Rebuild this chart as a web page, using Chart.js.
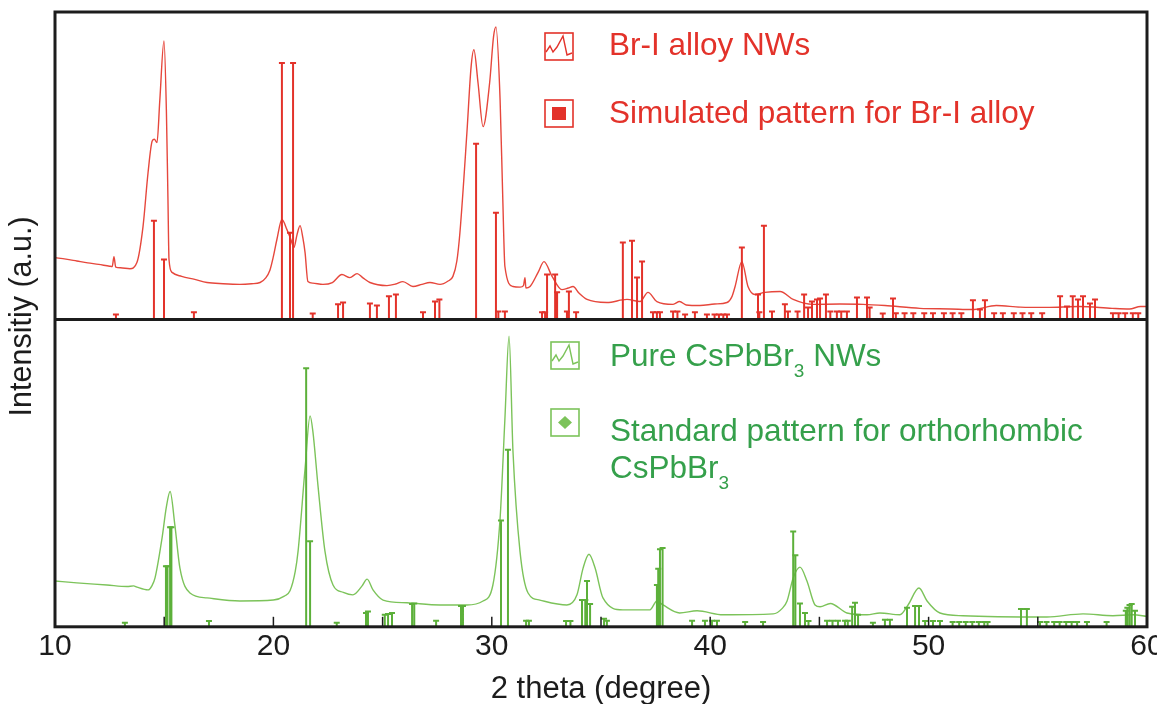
<!DOCTYPE html>
<html>
<head>
<meta charset="utf-8">
<title>XRD patterns</title>
<script src="https://cdn.jsdelivr.net/npm/chart.js@4.4.1/dist/chart.umd.min.js"></script>
<style>
    html, body { margin: 0; padding: 0; background: #fff; }
    #wrap { width: 1157px; height: 704px; }
</style>
</head>
<body>
<div id="wrap"><canvas id="chart" width="1157" height="704"></canvas></div>
<script>
// Br-I alloy NWs, measured pattern (2 theta, intensity in top-panel units 0..100)
const alloyX = [10.0, 10.5, 11.0, 11.5, 12.0, 12.5, 12.62, 12.7, 12.78, 13.0, 13.43, 13.75, 14.03, 14.26, 14.45, 14.55, 14.67, 14.8, 14.99, 15.1, 15.17, 15.22, 15.36, 15.8, 16.4, 16.96, 17.7, 18.47, 19.0, 19.39, 19.65, 19.84, 20.0, 20.16, 20.39, 20.62, 20.8, 20.94, 21.08, 21.22, 21.35, 21.45, 21.58, 21.8, 22.27, 22.7, 23.14, 23.5, 23.83, 24.1, 24.42, 25.2, 25.6, 25.93, 26.39, 26.8, 27.17, 27.63, 28.0, 28.22, 28.4, 28.54, 28.86, 29.05, 29.18, 29.37, 29.6, 29.9, 30.08, 30.19, 30.38, 30.5, 30.6, 30.97, 31.3, 31.45, 31.52, 31.56, 31.75, 32.12, 32.39, 32.76, 33.21, 33.5, 33.72, 34.0, 34.36, 35.27, 36.19, 36.79, 37.15, 37.56, 38.3, 38.6, 38.9, 39.53, 40.2, 40.77, 41.0, 41.14, 41.45, 41.73, 42.05, 42.5, 43.2, 43.8, 44.7, 45.94, 47.0, 48.0, 49.6, 51.0, 52.0, 53.1, 54.2, 55.4, 56.9, 58.4, 59.2, 59.7, 60.0];
const alloyY = [20.1, 19.6, 19.0, 18.4, 17.9, 17.3, 17.2, 20.4, 17.0, 16.8, 16.5, 18.5, 30.2, 47.7, 58.0, 58.6, 57.5, 71.4, 90.6, 68.0, 40.0, 19.5, 15.3, 14.0, 13.0, 12.0, 11.6, 11.4, 11.6, 12.0, 13.5, 16.0, 20.5, 26.0, 32.5, 29.2, 26.0, 23.4, 27.5, 30.5, 26.5, 21.7, 12.3, 11.8, 11.4, 12.0, 14.6, 13.6, 14.9, 13.5, 12.0, 11.0, 11.5, 12.3, 10.7, 11.4, 12.0, 11.4, 12.5, 14.0, 19.0, 28.2, 60.7, 82.0, 87.7, 76.9, 62.7, 76.9, 92.0, 95.1, 71.4, 40.0, 17.2, 10.7, 10.5, 11.0, 13.6, 10.2, 10.7, 15.3, 18.8, 14.0, 9.7, 10.2, 10.7, 8.5, 6.5, 5.5, 6.5, 5.8, 8.8, 5.8, 4.9, 5.8, 4.7, 4.5, 5.0, 5.5, 7.5, 10.7, 18.8, 10.7, 8.1, 8.8, 9.1, 6.5, 4.9, 5.0, 4.9, 4.5, 3.6, 3.4, 3.2, 4.5, 4.0, 3.9, 4.2, 3.6, 3.4, 4.2, 4.2];

// simulated pattern for Br-I alloy (stick positions and heights)
const alloyRefX = [12.79, 14.53, 14.99, 16.36, 20.39, 20.76, 20.9, 21.8, 22.96, 23.19, 24.42, 24.74, 25.29, 25.61, 26.85, 27.4, 27.6, 29.28, 30.19, 30.3, 30.6, 32.3, 32.44, 32.53, 32.9, 32.99, 33.44, 33.53, 33.86, 36.0, 36.42, 36.65, 36.88, 37.38, 37.56, 37.7, 38.3, 38.5, 38.85, 39.3, 39.85, 40.2, 40.4, 40.6, 40.77, 41.45, 42.19, 42.25, 42.46, 42.83, 43.42, 43.56, 44.0, 44.3, 44.48, 44.66, 44.89, 45.03, 45.3, 45.5, 45.8, 46.0, 46.26, 46.72, 47.18, 47.3, 47.9, 48.37, 48.5, 48.9, 49.3, 49.8, 50.2, 50.7, 51.1, 51.5, 52.03, 52.35, 52.58, 53.0, 53.4, 53.9, 54.3, 54.7, 55.2, 56.02, 56.34, 56.6, 56.84, 57.07, 57.39, 57.62, 58.44, 58.7, 59.0, 59.35, 59.6];
const alloyRefY = [1.6, 32.1, 19.5, 2.3, 83.4, 28.2, 83.4, 1.9, 4.9, 5.5, 5.2, 4.5, 7.5, 8.1, 2.3, 5.8, 6.5, 57.1, 34.7, 2.6, 2.6, 2.3, 2.3, 14.6, 14.6, 8.8, 2.6, 9.1, 2.3, 25.0, 25.6, 13.6, 18.8, 2.3, 2.3, 2.3, 2.6, 2.6, 1.6, 2.3, 1.6, 1.6, 1.6, 1.6, 1.6, 23.4, 8.1, 2.3, 30.5, 2.6, 4.9, 2.6, 2.6, 8.1, 3.9, 5.8, 6.5, 6.8, 8.1, 2.6, 2.6, 2.6, 2.6, 7.1, 7.1, 3.9, 1.9, 6.8, 2.0, 2.0, 2.0, 2.0, 2.0, 2.0, 2.0, 2.0, 6.2, 3.2, 6.2, 2.0, 2.0, 2.0, 2.0, 2.0, 2.0, 7.5, 4.2, 7.5, 6.5, 7.5, 5.2, 6.5, 2.0, 2.0, 2.0, 2.0, 2.0];

// pure CsPbBr3 NWs, measured pattern (bottom-panel units 0..100)
const pureX = [10.0, 11.0, 12.38, 13.3, 13.6, 13.75, 14.26, 14.45, 14.58, 14.9, 15.1, 15.27, 15.49, 15.72, 16.18, 16.96, 18.47, 20.0, 20.5, 20.76, 21.0, 21.13, 21.45, 21.68, 21.81, 22.04, 22.36, 22.73, 23.2, 23.64, 24.06, 24.29, 24.56, 25.02, 26.12, 27.63, 28.86, 29.6, 30.05, 30.38, 30.6, 30.79, 30.97, 31.29, 31.66, 32.2, 33.44, 33.9, 34.18, 34.45, 34.73, 35.09, 36.0, 37.24, 37.56, 37.84, 38.6, 39.4, 40.59, 42.88, 43.3, 43.52, 43.8, 44.11, 44.43, 44.8, 45.03, 45.5, 46.26, 47.18, 47.77, 48.69, 49.06, 49.56, 49.93, 50.52, 51.57, 55.42, 57.07, 58.44, 59.36, 60.0];
const pureY = [14.9, 14.3, 13.6, 13.1, 13.3, 12.9, 12.0, 13.5, 15.9, 28.8, 39.0, 44.0, 33.0, 19.1, 11.0, 9.4, 8.4, 8.7, 10.0, 11.7, 18.0, 24.6, 51.5, 68.6, 63.4, 46.0, 24.6, 13.6, 11.2, 10.4, 13.3, 15.5, 12.0, 8.7, 7.8, 7.1, 7.1, 8.4, 13.6, 35.3, 67.6, 94.5, 57.0, 24.6, 11.0, 8.7, 7.1, 10.4, 19.1, 23.6, 19.1, 9.4, 5.5, 5.5, 8.4, 7.1, 4.5, 5.2, 3.9, 4.2, 6.0, 8.4, 15.9, 19.4, 14.9, 7.1, 6.5, 7.6, 4.5, 3.9, 4.5, 3.9, 7.1, 12.6, 8.4, 4.5, 3.6, 3.2, 4.2, 3.6, 3.9, 3.4];

// standard pattern for orthorhombic CsPbBr3
const orthoRefX = [13.2, 15.08, 15.15, 15.27, 15.33, 17.05, 21.5, 21.68, 22.9, 24.24, 24.33, 25.1, 25.25, 25.43, 26.35, 26.45, 27.45, 28.59, 28.68, 30.42, 30.74, 31.57, 31.7, 33.4, 33.6, 34.13, 34.28, 34.36, 34.5, 35.14, 35.27, 37.56, 37.62, 37.7, 37.82, 39.17, 39.76, 40.08, 40.31, 41.6, 42.42, 43.8, 43.9, 44.11, 44.34, 44.5, 45.35, 45.6, 45.85, 46.17, 46.3, 46.5, 46.63, 46.77, 47.45, 48.0, 48.23, 49.01, 49.38, 49.56, 49.84, 50.2, 50.52, 51.1, 51.4, 51.7, 52.0, 52.3, 52.55, 52.7, 54.23, 54.5, 55.1, 55.4, 55.75, 56.0, 56.3, 56.55, 56.8, 57.25, 58.15, 59.03, 59.1, 59.2, 59.3, 59.45];
const orthoRefY = [1.3, 19.7, 19.7, 32.4, 32.4, 1.9, 84.1, 27.8, 1.3, 4.5, 5.0, 3.9, 4.2, 4.5, 7.4, 7.6, 2.0, 6.8, 6.8, 34.6, 57.6, 2.0, 2.0, 1.9, 1.9, 8.7, 8.7, 14.9, 7.4, 2.6, 2.0, 13.6, 18.9, 25.2, 25.6, 2.0, 2.0, 2.0, 2.0, 1.6, 1.6, 31.0, 23.3, 7.6, 4.5, 1.9, 2.0, 2.0, 2.0, 2.0, 2.0, 6.5, 7.8, 3.9, 1.3, 2.3, 2.3, 6.2, 6.8, 6.8, 1.9, 1.9, 1.9, 1.6, 1.6, 1.6, 1.6, 1.6, 1.6, 1.6, 5.8, 5.8, 1.6, 1.6, 1.6, 1.6, 1.6, 1.6, 1.6, 1.6, 1.6, 5.2, 6.2, 7.1, 7.4, 5.2];

// axis
const xMin = 10;
const xMax = 60;
const xStep = 10;
const minorTicks = [15, 20, 25, 30, 35, 40, 45, 50, 55];

const RED = '#e3322a';
const RED_LINE = '#e6473c';
const GREEN = '#35a04b';
const GREEN_LINE = '#7cc35a';
const GREEN_STICK = '#5cb03a';
const INK = '#1c1c1c';
const FONT = "'Liberation Sans', Arial, Helvetica, sans-serif";
const LEGEND_SIZE = 31.5;

var toPoints = function (xs, ys) {
    return xs.map((x, i) => ({ x: x, y: ys[i] }));
};

// every stick: base, top, gap
var toSticks = function (xs, ys) {
    const pts = [];
    xs.forEach((x, i) => {
        pts.push({ x: x, y: 0 });
        pts.push({ x: x, y: ys[i] });
        pts.push({ x: x, y: null });
    });
    return pts;
};

var curveSet = function (data, color, axis) {
    return {
        type: 'line',
        data: data,
        yAxisID: axis,
        borderColor: color,
        borderWidth: 1.4,
        pointRadius: 0,
        cubicInterpolationMode: 'monotone'
    };
};

var stickSet = function (data, color, axis) {
    return {
        type: 'line',
        data: data,
        yAxisID: axis,
        borderColor: color,
        borderWidth: 2,
        tension: 0,
        spanGaps: false,
        pointStyle: 'line',
        pointRadius: (c) => (c.dataIndex % 3 === 1 ? 3 : 0),
        pointHoverRadius: 0,
        pointBorderColor: color,
        pointBorderWidth: 2
    };
};

function drawRuns(ctx, x, y, runs, size, color) {
    ctx.fillStyle = color;
    ctx.textBaseline = 'alphabetic';
    ctx.textAlign = 'left';
    runs.forEach(run => {
        const sub = run[1] === 'sub';
        ctx.font = (sub ? Math.round(size * 0.6) : size) + 'px ' + FONT;
        ctx.fillText(run[0], x, sub ? y + 11 : y);
        x += ctx.measureText(run[0]).width;
    });
}

function iconBox(ctx, x, y, color) {
    ctx.strokeStyle = color;
    ctx.lineWidth = 1.6;
    ctx.strokeRect(x, y, 28, 27);
}

function iconSpectrum(ctx, x, y, color) {
    iconBox(ctx, x, y, color);
    const pts = [[1, 19], [5, 13], [8, 19], [12, 14], [18, 3], [22, 22], [27, 20]];
    ctx.beginPath();
    pts.forEach((p, i) => (i ? ctx.lineTo(x + p[0], y + p[1]) : ctx.moveTo(x + p[0], y + p[1])));
    ctx.lineWidth = 1.4;
    ctx.stroke();
}

function iconSquare(ctx, x, y, color) {
    iconBox(ctx, x, y, color);
    ctx.fillStyle = color;
    ctx.fillRect(x + 7, y + 7, 14, 13);
}

function iconDiamond(ctx, x, y, color) {
    iconBox(ctx, x, y, color);
    ctx.fillStyle = color;
    ctx.beginPath();
    ctx.moveTo(x + 14, y + 7);
    ctx.lineTo(x + 21, y + 13.5);
    ctx.lineTo(x + 14, y + 20);
    ctx.lineTo(x + 7, y + 13.5);
    ctx.closePath();
    ctx.fill();
}

const framePlugin = {
    id: 'frame',
    afterDatasetsDraw(chart) {
        const { ctx, chartArea: a, scales } = chart;
        const mid = scales.yTop.bottom;
        ctx.save();
        ctx.strokeStyle = INK;
        ctx.lineWidth = 1.5;
        minorTicks.forEach(v => {
            const px = scales.x.getPixelForValue(v);
            ctx.beginPath();
            ctx.moveTo(px, a.bottom);
            ctx.lineTo(px, a.bottom - 10);
            ctx.stroke();
        });
        ctx.lineWidth = 3;
        ctx.strokeRect(a.left, a.top, a.right - a.left, a.bottom - a.top);
        ctx.beginPath();
        ctx.moveTo(a.left, mid);
        ctx.lineTo(a.right, mid);
        ctx.stroke();

        // y title over both panels
        ctx.translate(23, (a.top + a.bottom) / 2 - 3);
        ctx.rotate(-Math.PI / 2);
        ctx.fillStyle = INK;
        ctx.font = '30.5px ' + FONT;
        ctx.textAlign = 'center';
        ctx.textBaseline = 'middle';
        ctx.fillText('Intensitiy (a.u.)', 0, 0);
        ctx.restore();

        // legends
        ctx.save();
        iconSpectrum(ctx, 545, 33, RED);
        drawRuns(ctx, 609, 55, [['Br-I alloy NWs', '']], LEGEND_SIZE, RED);
        iconSquare(ctx, 545, 100, RED);
        drawRuns(ctx, 609, 123, [['Simulated pattern for Br-I alloy', '']], LEGEND_SIZE, RED);

        iconSpectrum(ctx, 551, 342, GREEN_LINE);
        drawRuns(ctx, 610, 366, [['Pure CsPbBr', ''], ['3', 'sub'], [' NWs', '']], LEGEND_SIZE, GREEN);
        iconDiamond(ctx, 551, 409, GREEN_LINE);
        drawRuns(ctx, 610, 441, [['Standard pattern for orthorhombic', '']], LEGEND_SIZE, GREEN);
        drawRuns(ctx, 610, 478, [['CsPbBr', ''], ['3', 'sub']], LEGEND_SIZE, GREEN);
        ctx.restore();
    }
};

var config = {
    type: 'line',
    data: {
        datasets: [
            stickSet(toSticks(alloyRefX, alloyRefY), RED, 'yTop'),
            curveSet(toPoints(alloyX, alloyY), RED_LINE, 'yTop'),
            stickSet(toSticks(orthoRefX, orthoRefY), GREEN_STICK, 'yBot'),
            curveSet(toPoints(pureX, pureY), GREEN_LINE, 'yBot')
        ]
    },
    options: {
        responsive: false,
        animation: false,
        layout: {
            padding: { left: 55, right: 10, top: 12, bottom: 0 }
        },
        plugins: {
            legend: { display: false },
            tooltip: { enabled: false }
        },
        scales: {
            x: {
                type: 'linear',
                min: xMin,
                max: xMax,
                grid: { display: false, drawTicks: false },
                border: { display: false },
                ticks: {
                    stepSize: xStep,
                    padding: 2,
                    color: INK,
                    font: { family: FONT, size: 30 }
                },
                title: {
                    display: true,
                    text: '2 theta (degree)',
                    color: INK,
                    padding: { top: 4, bottom: -4 },
                    font: { family: FONT, size: 31 }
                },
                afterFit: (scale) => {
                    scale.paddingRight = 0;
                }
            },
            yBot: {
                type: 'linear',
                position: 'left',
                stack: 'panels',
                stackWeight: 1,
                min: 0,
                max: 100,
                grid: { display: false, drawTicks: false },
                border: { display: false },
                ticks: { display: false }
            },
            yTop: {
                type: 'linear',
                position: 'left',
                stack: 'panels',
                stackWeight: 1,
                min: 0,
                max: 100,
                grid: { display: false, drawTicks: false },
                border: { display: false },
                ticks: { display: false }
            }
        }
    },
    plugins: [framePlugin]
};

window.onload = function () {
    var ctx = document.getElementById('chart').getContext('2d');
    window.xrdChart = new Chart(ctx, config);
};
</script>
</body>
</html>
